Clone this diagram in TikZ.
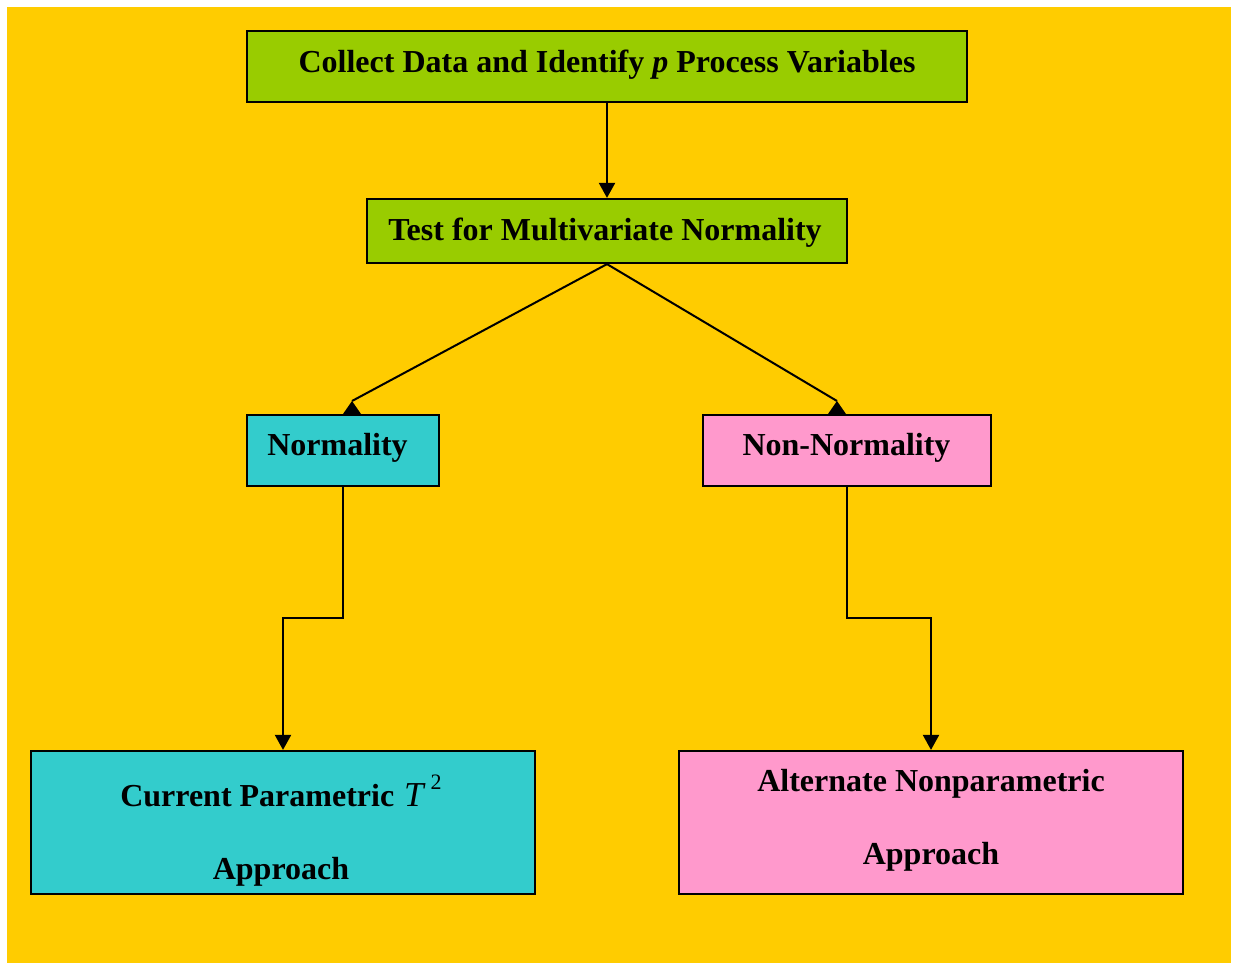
\documentclass[tikz,border=0pt]{standalone}
\usepackage{fontspec}
\setmainfont{Liberation Serif}
\usetikzlibrary{arrows.meta}
\definecolor{bgyellow}{HTML}{FFCC00}
\definecolor{boxgreen}{HTML}{99CC00}
\definecolor{boxcyan}{HTML}{33CCCC}
\definecolor{boxpink}{HTML}{FF99CC}
\tikzset{
  box/.style={draw=black, line width=2.2pt, inner sep=0pt, rectangle},
  txt/.style={inner sep=0pt, anchor=base, font=\fontsize{32}{73}\selectfont\bfseries, align=center},
  conn/.style={line width=2pt, draw=black},
  arr/.style={conn, -{Triangle[width=16pt,length=15pt]}},
}
\begin{document}
\begin{tikzpicture}[x=1pt,y=-1pt]
\useasboundingbox (0,0) rectangle (1235,964);
\fill[white] (0,0) rectangle (1235,964);
\fill[bgyellow] (7,7) rectangle (1231,963);

% boxes
\node[box, fill=boxgreen, minimum width=720pt, minimum height=71pt] (collect) at (607,66.5) {};
\node[box, fill=boxgreen, minimum width=480pt, minimum height=64pt] (test) at (607,231) {};
\node[box, fill=boxcyan, minimum width=192pt, minimum height=71pt] (norm) at (343,450.5) {};
\node[box, fill=boxpink, minimum width=288pt, minimum height=71pt] (nonnorm) at (847,450.5) {};
\node[box, fill=boxcyan, minimum width=504pt, minimum height=143pt] (cur) at (283,822.5) {};
\node[box, fill=boxpink, minimum width=504pt, minimum height=143pt] (alt) at (931,822.5) {};

% texts
\node[txt] (collectT) at (607,72) {Collect Data and Identify \textit{p} Process Variables};
\node[txt] (testT) at (605,240) {Test for Multivariate Normality};
\node[txt] (normT) at (337.5,455) {Normality};
\node[txt] (nonnormT) at (846.5,455) {Non-Normality};
\node[txt] (curT) at (281,879) {Current Parametric\hspace{10pt}{\mdseries\itshape\fontsize{35}{35}\selectfont T}\hspace{7pt}\raisebox{17pt}{\mdseries\fontsize{22}{22}\selectfont 2}\\Approach};
\node[txt] (altT) at (931,864) {Alternate Nonparametric\\Approach};

% connectors
\draw[arr] (collect.south) -- (test.north);
\coordinate (lapex) at (352,401);
\coordinate (rapex) at (837,401);
\draw[conn] (test.south) -- (lapex);
\draw[conn] (test.south) -- (rapex);
\fill[black] (lapex) -- ++(-9,13) -- ++(18,0) -- cycle;
\fill[black] (rapex) -- ++(-9,13) -- ++(18,0) -- cycle;
\draw[arr] (norm.south) -- (norm.south |- 0,618) -| (cur.north);
\draw[arr] (nonnorm.south) -- (nonnorm.south |- 0,618) -| (alt.north);
\end{tikzpicture}
\end{document}
